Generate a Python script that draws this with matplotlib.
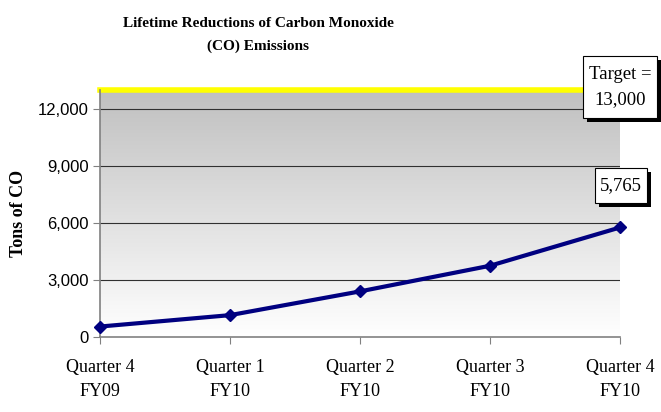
import numpy as np
import matplotlib.pyplot as plt
from matplotlib import patheffects
from matplotlib.patches import Rectangle

# data
quarters = ["Quarter 4\nFY09", "Quarter 1\nFY10", "Quarter 2\nFY10",
            "Quarter 3\nFY10", "Quarter 4\nFY10"]
tons = [550, 1150, 2400, 3750, 5765]
target = 13000
yticks = [0, 3000, 6000, 9000, 12000]

serif = "Liberation Serif"
sans = "Liberation Sans"
W, H = 661, 412

fig = plt.figure(figsize=(6.61, 4.12), dpi=100)
ax = fig.add_axes([100/W, 75/H, 520/W, 247/H])

x = np.arange(len(quarters))
ax.set_xlim(0, len(quarters) - 1)
ax.set_ylim(0, target)

# grey (top) to white (bottom) background
g = np.linspace(192, 255, 256) / 255
grad = np.dstack([g, g, g]).reshape(-1, 1, 3)
ax.imshow(grad, aspect="auto", extent=[0, len(quarters) - 1, 0, target],
          origin="upper", zorder=0)

for yv in yticks[1:]:
    ax.axhline(yv, color="#303030", lw=0.8, zorder=1)
ax.axhline(target, color="#ffff00", lw=4, zorder=2, clip_on=False)

ax.plot(x, tons, color="#000080", lw=3, marker="D", markersize=6, zorder=3,
        clip_on=False)

ax.set_yticks(yticks)
ax.set_yticklabels([f"{v:,}" for v in yticks], fontfamily=sans, fontsize=12)
ax.set_xticks(x)
ax.set_xticklabels(quarters, fontfamily=serif, fontsize=13, linespacing=1.5)
ax.tick_params(axis="both", direction="out", length=5, color="#808080")
ax.tick_params(axis="x", pad=11)
ax.tick_params(axis="y", pad=3)

for s in ["top", "right"]:
    ax.spines[s].set_visible(False)
for s in ["left", "bottom"]:
    ax.spines[s].set_color("#808080")
    ax.spines[s].set_linewidth(1.2)

ax.set_ylabel("Tons of CO", fontfamily=serif, fontweight="bold", fontsize=13,
              labelpad=8)

fig.text(258/W, 1 - 35/H, "Lifetime Reductions of Carbon Monoxide\n(CO) Emissions",
         ha="center", va="center", fontfamily=serif, fontweight="bold",
         fontsize=11, linespacing=2.0)


def shadow_label(x0, y0, x1, y1, text):
    # box given in pixels from top-left corner
    r = Rectangle((x0/W, 1 - y1/H), (x1 - x0)/W, (y1 - y0)/H,
                  transform=fig.transFigure, fc="white", ec="black", lw=0.8,
                  zorder=5)
    r.set_path_effects([
        patheffects.SimplePatchShadow(offset=(3, -3), shadow_rgbFace="black", alpha=1.0),
        patheffects.Normal()])
    fig.add_artist(r)
    fig.text((x0 + x1)/2/W, 1 - (y0 + y1)/2/H, text, ha="center", va="center",
             fontfamily=serif, fontsize=13.5, linespacing=1.65, zorder=6)


shadow_label(583, 56, 657, 118, "Target =\n13,000")
shadow_label(595, 168, 647, 203, f"{tons[-1]:,}")

fig.savefig("out.png", dpi=100)
